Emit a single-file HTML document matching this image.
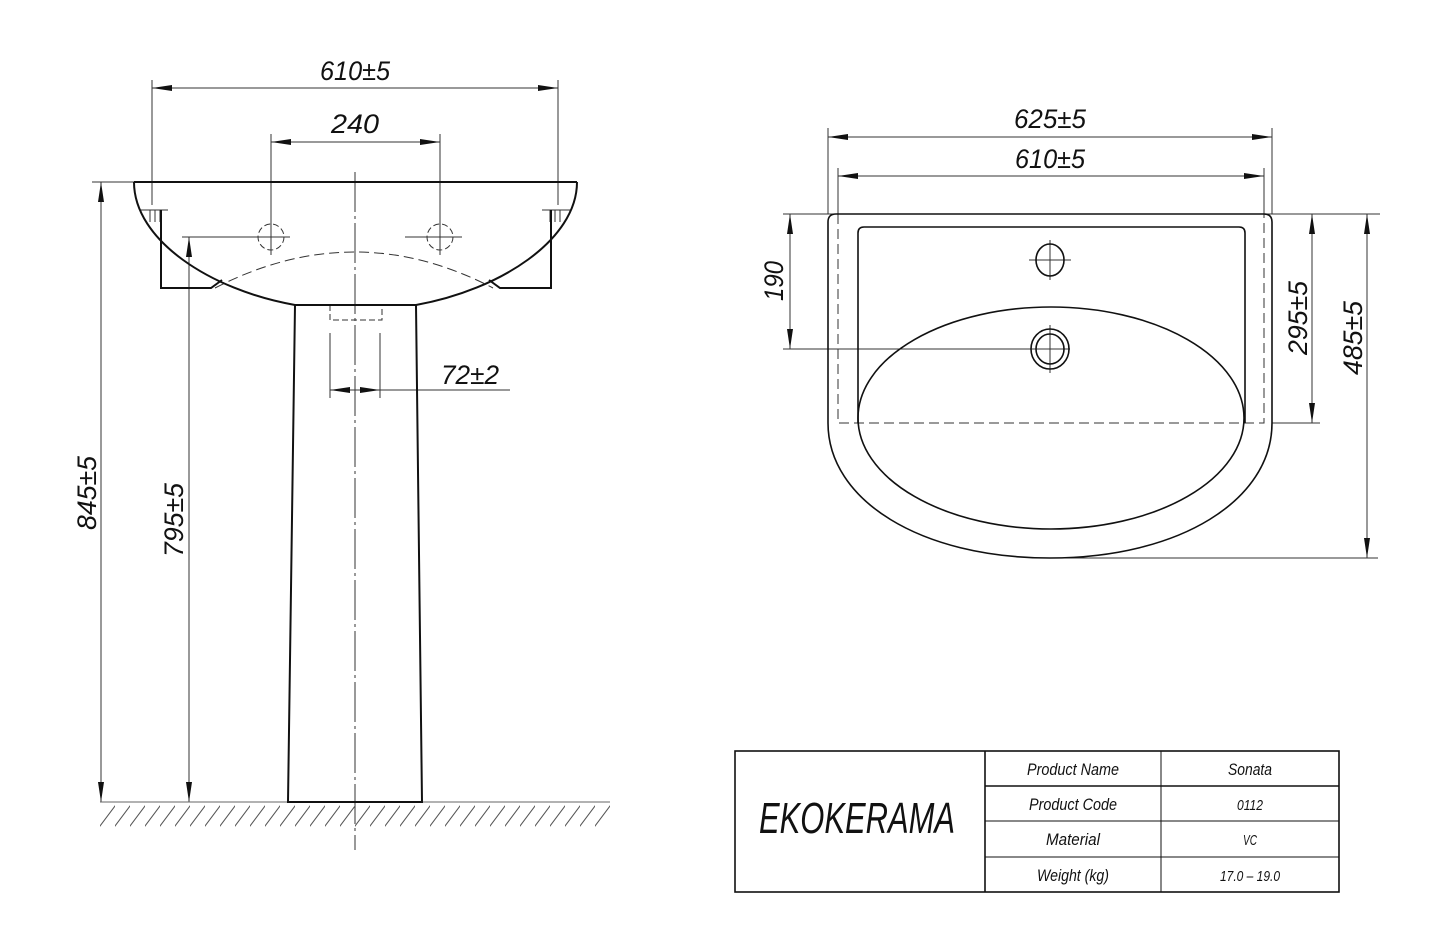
<!DOCTYPE html>
<html><head><meta charset="utf-8"><style>
html,body{margin:0;padding:0;background:#fff;}
svg{display:block}
text{font-family:"Liberation Sans",sans-serif;font-style:italic;fill:#111;}
</style></head><body>
<svg width="1450" height="950" viewBox="0 0 1450 950" xmlns="http://www.w3.org/2000/svg">
<defs>
<marker id="a" viewBox="0 0 20 6" refX="20" refY="3" markerWidth="20" markerHeight="6" markerUnits="userSpaceOnUse" orient="auto-start-reverse"><path d="M0,0 L20,3 L0,6 z" fill="#111"/></marker>
<pattern id="h" width="15" height="28" patternUnits="userSpaceOnUse" x="100" y="802"><line x1="-3" y1="28" x2="18" y2="0" stroke="#555" stroke-width="1"/></pattern>
</defs>
<g fill="none" stroke="#333" stroke-width="1">
<!-- LEFT VIEW dims -->
<line x1="152" y1="80" x2="152" y2="205"/><line x1="558" y1="80" x2="558" y2="205"/>
<line x1="152" y1="88" x2="558" y2="88" marker-start="url(#a)" marker-end="url(#a)"/>
<line x1="271" y1="134" x2="271" y2="255"/><line x1="440" y1="134" x2="440" y2="255"/>
<line x1="271" y1="142" x2="440" y2="142" marker-start="url(#a)" marker-end="url(#a)"/>
<line x1="92" y1="182" x2="134" y2="182"/>
<line x1="101" y1="182" x2="101" y2="802" marker-start="url(#a)" marker-end="url(#a)"/>
<line x1="182" y1="237" x2="290" y2="237"/>
<line x1="405" y1="237" x2="462" y2="237"/>
<line x1="189" y1="237" x2="189" y2="802" marker-start="url(#a)" marker-end="url(#a)"/>
<line x1="330" y1="333" x2="330" y2="398"/><line x1="380" y1="333" x2="380" y2="398"/>
<line x1="330" y1="390" x2="380" y2="390" marker-start="url(#a)" marker-end="url(#a)"/>
<line x1="380" y1="390" x2="510" y2="390"/>
<line x1="355" y1="172" x2="355" y2="850" stroke-dasharray="40 4 3 4"/>
<!-- T marks -->
<path d="M140,210 H168 M150,210 V222 M155,210 V222 M160,210 V222"/>
<path d="M542,210 H570 M550,210 V222 M555,210 V222 M560,210 V222"/>
<circle cx="271" cy="237" r="13" stroke-dasharray="6 3"/>
<circle cx="440" cy="237" r="13" stroke-dasharray="6 3"/>
<path d="M215,288 Q355,216 493,288" stroke-dasharray="10 5"/>
<path d="M330,305 V320 H382 V305" stroke-dasharray="6 3"/>
<line x1="100" y1="802" x2="610" y2="802" stroke="#666"/>
</g>
<rect x="100" y="803" width="510" height="27" fill="url(#h)"/>
<g fill="none" stroke="#111" stroke-width="2">
<line x1="134" y1="182" x2="577" y2="182"/>
<path d="M134,182 C134,240 210,290 295,305 L416,305 C500,290 577,240 577,182"/>
<path d="M161,210 V288 H211 L222,280"/>
<path d="M551,210 V288 H500 L489,280"/>
<path d="M295,305 L288,802 H422 L416,305"/>
</g>
<g font-size="27">
<text x="355" y="80" text-anchor="middle" textLength="70" lengthAdjust="spacingAndGlyphs">610±5</text>
<text x="355" y="133" text-anchor="middle" textLength="48" lengthAdjust="spacingAndGlyphs">240</text>
<text x="470" y="384" text-anchor="middle" textLength="58" lengthAdjust="spacingAndGlyphs">72±2</text>
<text transform="translate(96,493) rotate(-90)" text-anchor="middle" textLength="74" lengthAdjust="spacingAndGlyphs">845±5</text>
<text transform="translate(183,520) rotate(-90)" text-anchor="middle" textLength="74" lengthAdjust="spacingAndGlyphs">795±5</text>
</g>
<!-- RIGHT VIEW -->
<g fill="none" stroke="#333" stroke-width="1">
<line x1="828" y1="128" x2="828" y2="214"/><line x1="1272" y1="128" x2="1272" y2="214"/>
<line x1="828" y1="137" x2="1272" y2="137" marker-start="url(#a)" marker-end="url(#a)"/>
<line x1="838" y1="168" x2="838" y2="214"/><line x1="1264" y1="168" x2="1264" y2="214"/>
<line x1="838" y1="176" x2="1264" y2="176" marker-start="url(#a)" marker-end="url(#a)"/>
<line x1="783" y1="214" x2="1380" y2="214"/>
<line x1="790" y1="214" x2="790" y2="349" marker-start="url(#a)" marker-end="url(#a)"/>
<line x1="783" y1="349" x2="1070" y2="349"/>
<line x1="1312" y1="214" x2="1312" y2="423" marker-start="url(#a)" marker-end="url(#a)"/>
<line x1="1272" y1="423" x2="1320" y2="423"/>
<line x1="1367" y1="214" x2="1367" y2="558" marker-start="url(#a)" marker-end="url(#a)"/>
<line x1="1050" y1="558" x2="1378" y2="558"/>
<path d="M838,214 V423 H1264 V214" stroke-dasharray="10 5"/>
<path d="M1029,260 H1071 M1050,240 V280 M1050,325 V373"/>
</g>
<g fill="none" stroke="#111" stroke-width="1.6">
<path d="M836,214 H1264 Q1272,214 1272,222 V423 C1272,500 1180,558 1050,558 C920,558 828,500 828,423 V222 Q828,214 836,214 Z"/>
<path d="M858,423 V233 Q858,227 864,227 H1239 Q1245,227 1245,233 V423"/>
<ellipse cx="1051" cy="418" rx="193" ry="111"/>
<ellipse cx="1050" cy="260" rx="14" ry="16"/>
<ellipse cx="1050" cy="349" rx="19" ry="20"/>
<ellipse cx="1050" cy="349" rx="14" ry="15"/>
</g>
<g font-size="27">
<text x="1050" y="128" text-anchor="middle" textLength="72" lengthAdjust="spacingAndGlyphs">625±5</text>
<text x="1050" y="168" text-anchor="middle" textLength="70" lengthAdjust="spacingAndGlyphs">610±5</text>
<text transform="translate(783,281) rotate(-90)" text-anchor="middle" textLength="40" lengthAdjust="spacingAndGlyphs">190</text>
<text transform="translate(1307,318) rotate(-90)" text-anchor="middle" textLength="74" lengthAdjust="spacingAndGlyphs">295±5</text>
<text transform="translate(1362,338) rotate(-90)" text-anchor="middle" textLength="74" lengthAdjust="spacingAndGlyphs">485±5</text>
</g>
<!-- TITLE BLOCK -->
<g fill="none" stroke="#111">
<rect x="735" y="751" width="604" height="141" stroke-width="1.6"/>
<line x1="985" y1="751" x2="985" y2="892" stroke-width="1.6"/>
<line x1="1161" y1="751" x2="1161" y2="892"/>
<line x1="985" y1="786" x2="1339" y2="786" stroke-width="1.6"/>
<line x1="985" y1="821" x2="1339" y2="821"/>
<line x1="985" y1="857" x2="1339" y2="857"/>
</g>
<text x="857" y="833" font-size="44" text-anchor="middle" textLength="196" lengthAdjust="spacingAndGlyphs">EKOKERAMA</text>
<g font-size="17" text-anchor="middle">
<text x="1073" y="775" textLength="92" lengthAdjust="spacingAndGlyphs">Product Name</text>
<text x="1073" y="810" textLength="88" lengthAdjust="spacingAndGlyphs">Product Code</text>
<text x="1073" y="845" textLength="54" lengthAdjust="spacingAndGlyphs">Material</text>
<text x="1073" y="881" textLength="72" lengthAdjust="spacingAndGlyphs">Weight (kg)</text>
<text x="1250" y="775" textLength="44" lengthAdjust="spacingAndGlyphs">Sonata</text>
<text x="1250" y="810" font-size="15" textLength="26" lengthAdjust="spacingAndGlyphs">0112</text>
<text x="1250" y="845" font-size="15" textLength="14" lengthAdjust="spacingAndGlyphs">VC</text>
<text x="1250" y="881" font-size="15" textLength="60" lengthAdjust="spacingAndGlyphs">17.0 – 19.0</text>
</g>
</svg>
</body></html>
